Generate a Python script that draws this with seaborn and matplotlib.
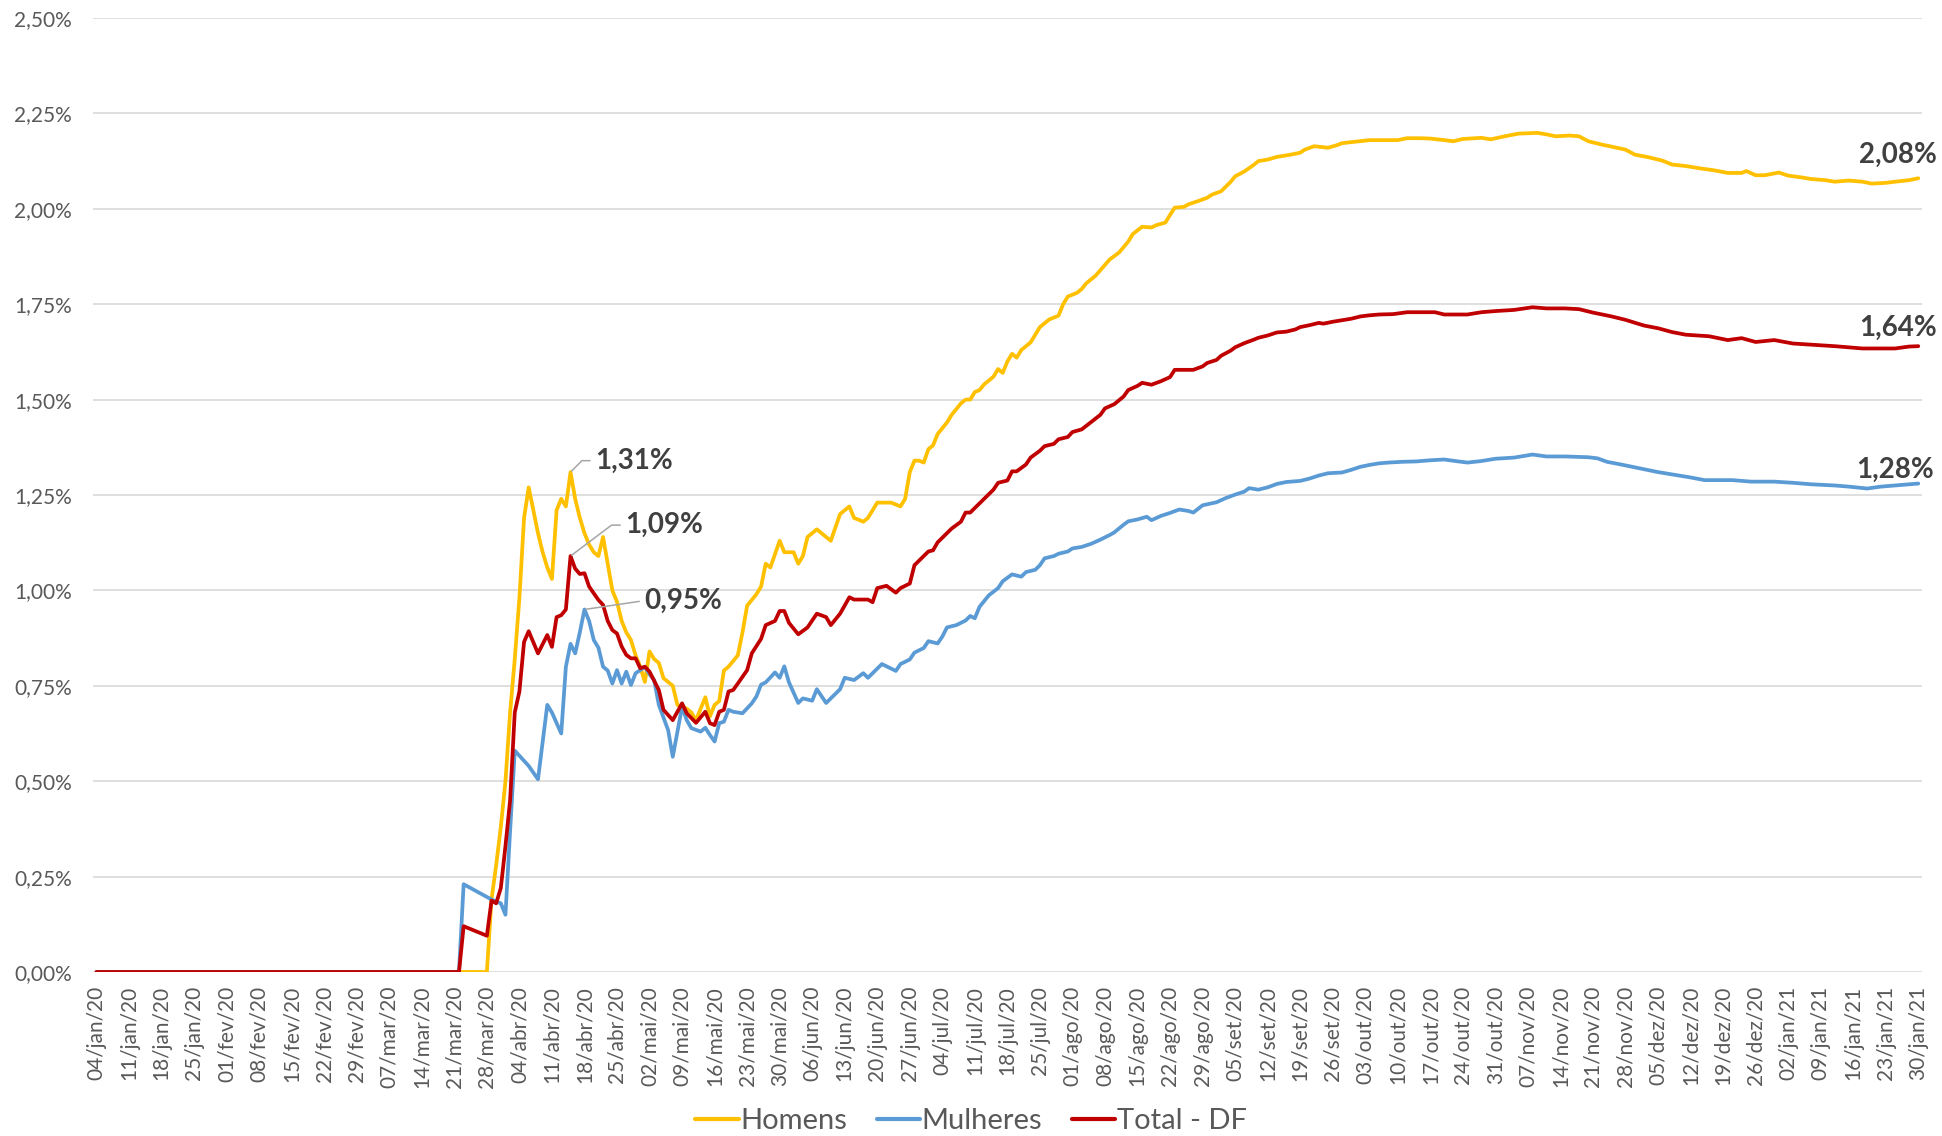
import numpy as np
import pandas as pd
import matplotlib
matplotlib.use("Agg")
import matplotlib.pyplot as plt
import matplotlib.dates as mdates
from matplotlib.lines import Line2D
import seaborn as sns

# ---- dados: letalidade acumulada (%) por sexo, dias contados a partir de 04/jan/2020 ----
inicio = pd.Timestamp("2020-01-04")
meses = ["jan", "fev", "mar", "abr", "mai", "jun", "jul", "ago", "set", "out", "nov", "dez"]
series = ["Homens", "Mulheres", "Total - DF"]
cores = ["#FFC000", "#5B9BD5", "#C00000"]

homens_dias = [0, 84, 85, 86, 87, 88, 89, 90, 91, 92, 93, 94, 95, 96, 97, 98, 99, 100, 101, 102,
               103, 104, 105, 106, 107, 108, 109, 110, 111, 112, 113, 114, 115, 116, 117, 118, 119,
               120, 121, 122, 124, 125, 127, 128, 129, 131, 132, 133, 134, 135, 136, 138, 139, 140,
               142, 143, 144, 145, 147, 148, 150, 151, 152, 153, 155, 157, 158, 160, 162, 163, 165,
               166, 168, 169, 171, 173, 174, 175, 176, 177, 178, 179, 180, 181, 183, 184, 186, 187,
               188, 189, 190, 191, 193, 194, 195, 196, 197, 198, 199, 201, 202, 203, 205, 206, 207,
               208, 209, 211, 212, 213, 215, 216, 218, 220, 222, 223, 225, 227, 228, 230, 231, 232,
               234, 235, 237, 239, 240, 242, 244, 245, 247, 249, 250, 252, 254, 257, 259, 260, 262,
               265, 267, 268, 271, 274, 277, 280, 282, 285, 287, 290, 292, 294, 298, 300, 303, 306,
               310, 312, 314, 317, 319, 321, 324, 326, 329, 331, 334, 337, 339, 342, 345, 348, 351,
               354, 355, 357, 359, 362, 364, 367, 369, 372, 374, 377, 380, 382, 385, 387, 390, 392]
homens = [0.0, 0.0, 0.19, 0.28, 0.38, 0.50, 0.68, 0.82, 0.98, 1.19, 1.27, 1.21, 1.15, 1.10, 1.06,
          1.03, 1.21, 1.24, 1.22, 1.31, 1.24, 1.19, 1.15, 1.12, 1.10, 1.09, 1.14, 1.07, 1.00, 0.97,
          0.92, 0.89, 0.87, 0.83, 0.80, 0.76, 0.84, 0.82, 0.81, 0.77, 0.75, 0.70, 0.69, 0.68, 0.66,
          0.72, 0.67, 0.70, 0.71, 0.79, 0.80, 0.83, 0.89, 0.96, 0.99, 1.01, 1.07, 1.06, 1.13, 1.10,
          1.10, 1.07, 1.09, 1.14, 1.16, 1.14, 1.13, 1.20, 1.22, 1.19, 1.18, 1.19, 1.23, 1.23, 1.23,
          1.22, 1.24, 1.31, 1.34, 1.34, 1.335, 1.37, 1.38, 1.41, 1.44, 1.46, 1.49, 1.50, 1.50, 1.52,
          1.525, 1.54, 1.56, 1.58, 1.57, 1.60, 1.62, 1.61, 1.63, 1.65, 1.67, 1.69, 1.71, 1.715, 1.72,
          1.75, 1.77, 1.78, 1.79, 1.805, 1.825, 1.839, 1.867, 1.885, 1.914, 1.934, 1.953, 1.951,
          1.957, 1.964, 1.984, 2.003, 2.005, 2.012, 2.02, 2.029, 2.037, 2.046, 2.07, 2.085, 2.098,
          2.115, 2.125, 2.129, 2.136, 2.142, 2.147, 2.155, 2.164, 2.16, 2.167, 2.172, 2.176, 2.18,
          2.18, 2.18, 2.185, 2.185, 2.184, 2.18, 2.177, 2.183, 2.186, 2.182, 2.19, 2.197, 2.199,
          2.195, 2.19, 2.192, 2.19, 2.177, 2.168, 2.163, 2.155, 2.142, 2.135, 2.126, 2.116, 2.112,
          2.106, 2.101, 2.094, 2.094, 2.099, 2.088, 2.088, 2.095, 2.087, 2.082, 2.078, 2.075, 2.071,
          2.074, 2.071, 2.066, 2.068, 2.071, 2.075, 2.08]

mulheres_dias = [0, 78, 79, 85, 87, 88, 89, 90, 93, 95, 97, 98, 100, 101, 102, 103, 104, 105, 106,
                 107, 108, 109, 110, 111, 112, 113, 114, 115, 116, 117, 118, 119, 120, 121, 123, 124,
                 126, 127, 128, 130, 131, 132, 133, 134, 135, 136, 137, 139, 141, 142, 143, 144, 146,
                 147, 148, 149, 151, 152, 154, 155, 156, 157, 159, 160, 161, 163, 165, 166, 167, 169,
                 170, 172, 173, 175, 176, 178, 179, 181, 182, 183, 185, 187, 188, 189, 190, 192, 194,
                 195, 197, 199, 200, 202, 203, 204, 206, 207, 209, 210, 212, 214, 216, 218, 219, 221,
                 222, 224, 226, 227, 229, 231, 233, 235, 236, 238, 241, 243, 245, 247, 248, 250, 252,
                 254, 256, 259, 261, 263, 265, 268, 270, 272, 274, 276, 278, 281, 284, 287, 290, 293,
                 295, 298, 301, 305, 309, 312, 316, 321, 323, 325, 328, 332, 336, 339, 343, 346, 352,
                 356, 361, 365, 369, 374, 377, 381, 384, 389, 392]
mulheres = [0.0, 0.0, 0.23, 0.19, 0.18, 0.15, 0.37, 0.58, 0.54, 0.505, 0.70, 0.68, 0.625, 0.80,
            0.86, 0.835, 0.89, 0.95, 0.92, 0.87, 0.85, 0.80, 0.79, 0.756, 0.791, 0.756, 0.787, 0.752,
            0.783, 0.791, 0.80, 0.78, 0.765, 0.70, 0.634, 0.564, 0.695, 0.66, 0.639, 0.63, 0.64,
            0.621, 0.604, 0.652, 0.656, 0.687, 0.682, 0.678, 0.704, 0.722, 0.753, 0.759, 0.785,
            0.771, 0.801, 0.759, 0.705, 0.717, 0.711, 0.741, 0.723, 0.705, 0.729, 0.741, 0.771,
            0.765, 0.783, 0.771, 0.783, 0.807, 0.801, 0.789, 0.807, 0.819, 0.837, 0.849, 0.867,
            0.861, 0.879, 0.903, 0.909, 0.921, 0.933, 0.927, 0.957, 0.987, 1.006, 1.024, 1.042,
            1.036, 1.048, 1.054, 1.066, 1.084, 1.09, 1.096, 1.102, 1.11, 1.114, 1.122, 1.133, 1.145,
            1.152, 1.172, 1.181, 1.186, 1.193, 1.184, 1.195, 1.203, 1.212, 1.208, 1.204, 1.223,
            1.231, 1.242, 1.251, 1.259, 1.268, 1.264, 1.27, 1.279, 1.284, 1.287, 1.293, 1.301,
            1.307, 1.309, 1.316, 1.324, 1.329, 1.333, 1.335, 1.337, 1.338, 1.341, 1.343, 1.338,
            1.335, 1.339, 1.345, 1.348, 1.356, 1.351, 1.351, 1.349, 1.346, 1.337, 1.33, 1.32, 1.31,
            1.304, 1.296, 1.289, 1.289, 1.285, 1.285, 1.282, 1.278, 1.275, 1.272, 1.267, 1.272,
            1.277, 1.28]

total_dias = [0, 78, 79, 84, 85, 86, 87, 88, 89, 90, 91, 92, 93, 95, 97, 98, 99, 100, 101, 102,
              103, 104, 105, 106, 108, 109, 110, 111, 112, 113, 114, 115, 116, 117, 118, 119, 121,
              122, 124, 126, 127, 129, 131, 132, 133, 134, 135, 136, 137, 138, 140, 141, 143, 144,
              146, 147, 148, 149, 151, 153, 155, 157, 158, 160, 162, 163, 166, 167, 168, 170, 172,
              173, 175, 176, 177, 179, 180, 181, 183, 184, 186, 187, 188, 190, 191, 193, 194, 196,
              197, 198, 200, 201, 203, 204, 206, 207, 209, 210, 212, 214, 216, 217, 219, 221, 222,
              224, 225, 227, 229, 231, 232, 236, 238, 239, 241, 242, 244, 245, 247, 249, 250, 252,
              254, 256, 258, 259, 261, 263, 264, 266, 268, 270, 272, 274, 276, 279, 282, 288, 290,
              295, 298, 301, 305, 309, 312, 316, 319, 322, 326, 329, 333, 336, 339, 342, 347, 351,
              354, 357, 361, 365, 369, 374, 377, 380, 384, 387, 390, 392]
total = [0.0, 0.0, 0.12, 0.095, 0.187, 0.18, 0.22, 0.33, 0.45, 0.68, 0.735, 0.865, 0.893, 0.835,
         0.883, 0.852, 0.93, 0.935, 0.95, 1.09, 1.057, 1.043, 1.045, 1.01, 0.975, 0.962, 0.92,
         0.896, 0.887, 0.853, 0.831, 0.822, 0.822, 0.796, 0.80, 0.787, 0.739, 0.687, 0.66, 0.704,
         0.678, 0.653, 0.682, 0.652, 0.647, 0.682, 0.687, 0.735, 0.739, 0.756, 0.791, 0.835, 0.873,
         0.909, 0.92, 0.946, 0.946, 0.915, 0.885, 0.903, 0.939, 0.93, 0.909, 0.939, 0.982, 0.976,
         0.976, 0.969, 1.006, 1.012, 0.994, 1.006, 1.018, 1.066, 1.078, 1.102, 1.105, 1.126, 1.15,
         1.162, 1.18, 1.204, 1.204, 1.228, 1.24, 1.264, 1.282, 1.288, 1.312, 1.312, 1.33, 1.348,
         1.366, 1.378, 1.384, 1.396, 1.402, 1.415, 1.422, 1.441, 1.46, 1.477, 1.488, 1.508, 1.525,
         1.536, 1.544, 1.539, 1.548, 1.559, 1.578, 1.578, 1.587, 1.596, 1.604, 1.615, 1.628,
         1.637, 1.648, 1.657, 1.662, 1.668, 1.676, 1.678, 1.684, 1.69, 1.695, 1.701, 1.699, 1.704,
         1.708, 1.712, 1.718, 1.721, 1.723, 1.724, 1.729, 1.729, 1.723, 1.723, 1.729, 1.732,
         1.735, 1.742, 1.739, 1.739, 1.737, 1.728, 1.718, 1.709, 1.694, 1.687, 1.677, 1.67, 1.666,
         1.656, 1.661, 1.651, 1.656, 1.647, 1.644, 1.64, 1.637, 1.634, 1.634, 1.634, 1.639, 1.64]

dias_por_serie = [homens_dias, mulheres_dias, total_dias]
valores_por_serie = [homens, mulheres, total]

# ---- estilo ----
sns.set_style("white")
plt.rcParams["font.family"] = ["Lato", "DejaVu Sans"]
cinza_texto = "#595959"
cinza_rotulo = "#404040"


def pct(v):
    return f"{v:.2f}%".replace(".", ",")


def data_num(d):
    return mdates.date2num(inicio + pd.Timedelta(days=float(d)))


frames = []
for nome, dias, vals in zip(series, dias_por_serie, valores_por_serie):
    frames.append(pd.DataFrame({
        "data": inicio + pd.to_timedelta(dias, unit="D"),
        "pct": vals,
        "serie": nome,
    }))
df = pd.concat(frames, ignore_index=True)

W, H = 1942, 1136
fig = plt.figure(figsize=(W / 100, H / 100), dpi=100)
ax = fig.add_axes([93 / W, 1 - 972 / H, (1922 - 93) / W, (972 - 18) / H])

sns.lineplot(data=df, x="data", y="pct", hue="serie", hue_order=series,
             palette=dict(zip(series, cores)), linewidth=2.7, estimator=None,
             legend=False, ax=ax)

# eixos
ax.set_ylim(0, 2.5)
ax.set_xlim(data_num(-0.75), data_num(392.8))
yt = np.arange(0, 2.51, 0.25)
ax.set_yticks(yt)
ax.set_yticklabels([pct(v) for v in yt], fontsize=15, color=cinza_texto)
ax.yaxis.grid(True, color="#D9D9D9", linewidth=1.2)
ax.xaxis.grid(False)
ax.set_axisbelow(True)

ticks = [inicio + pd.Timedelta(days=7 * k) for k in range(57)]
ax.set_xticks([mdates.date2num(t) for t in ticks])
ax.set_xticklabels([f"{t.day:02d}/{meses[t.month - 1]}/{t.year % 100:02d}" for t in ticks],
                   rotation=90, fontsize=15, color=cinza_texto)
ax.tick_params(axis="both", length=0)
ax.tick_params(axis="y", pad=15)
ax.tick_params(axis="x", pad=10)
ax.set_xlabel("")
ax.set_ylabel("")
for s in ax.spines.values():
    s.set_visible(False)

# rótulos dos picos da primeira onda (até meados de maio)
picos = [
    (0, 107.2, 1.340, "angle,angleA=0,angleB=45,rad=0"),
    (2, 113.7, 1.171, "angle,angleA=0,angleB=37,rad=0"),
    (1, 117.8, 0.973, "arc3,rad=0"),
]
for i, tx, ty, estilo in picos:
    dias = np.array(dias_por_serie[i])
    vals = np.array(valores_por_serie[i])
    janela = dias <= 130
    k = int(np.argmax(np.where(janela, vals, -1)))
    ax.annotate(pct(vals[k]), xy=(data_num(dias[k]), vals[k]),
                xytext=(data_num(tx), ty), textcoords="data",
                ha="left", va="center", fontsize=20, fontweight="bold",
                color=cinza_rotulo, annotation_clip=False,
                arrowprops=dict(arrowstyle="-", color="#A6A6A6", lw=1.1,
                                connectionstyle=estilo, relpos=(0, 0.5),
                                shrinkA=1, shrinkB=1))

# rótulos finais
offsets = [(-14.8, 16.8), (-16.6, 9.8), (-14.8, 13.5)]
for i, (dx, dy) in enumerate(offsets):
    d = dias_por_serie[i][-1]
    v = valores_por_serie[i][-1]
    ax.annotate(pct(v), xy=(data_num(d), v), xytext=(dx, dy), textcoords="offset points",
                ha="center", va="center", fontsize=20, fontweight="bold",
                color=cinza_rotulo, annotation_clip=False)

# legenda
handles = [Line2D([0], [0], color=c, lw=3) for c in cores]
leg = fig.legend(handles, series, loc="center", bbox_to_anchor=(0.5, 1 - 1121 / H),
                 ncol=3, frameon=False, fontsize=21, handlelength=1.5,
                 handletextpad=0.05, columnspacing=1.0)
for t in leg.get_texts():
    t.set_color(cinza_texto)

fig.savefig("out.png", dpi=100, facecolor="white")
